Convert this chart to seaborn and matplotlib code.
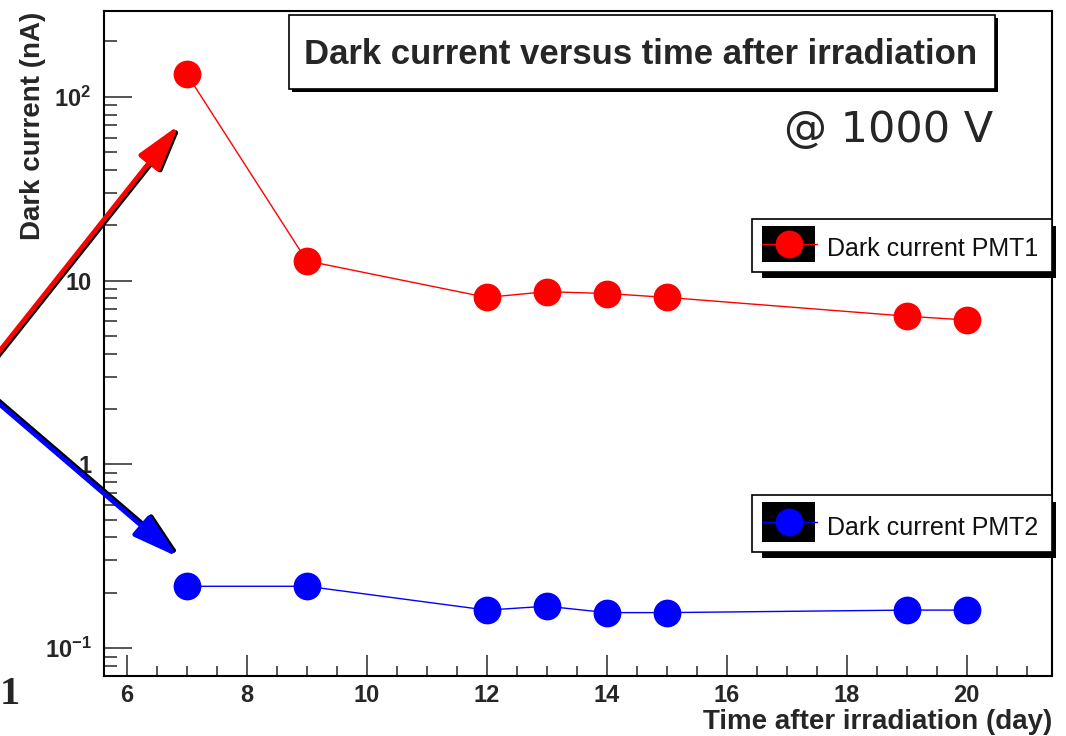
import numpy as np
import pandas as pd
import matplotlib
matplotlib.use('Agg')
import matplotlib.pyplot as plt
import seaborn as sns
from matplotlib.patches import Rectangle, FancyArrowPatch
from matplotlib.lines import Line2D
from matplotlib.ticker import FuncFormatter, MultipleLocator, LogLocator, NullFormatter

# dados
dias = [7, 9, 12, 13, 14, 15, 19, 20]
corrente_pmt1 = [133, 12.8, 8.1, 8.7, 8.5, 8.1, 6.4, 6.1]
corrente_pmt2 = [0.217, 0.217, 0.161, 0.169, 0.156, 0.156, 0.161, 0.161]
rotulos = ['Dark current PMT1', 'Dark current PMT2']
cores = ['#ff0000', '#0000ff']

sns.set_style('ticks')
plt.rcParams['font.family'] = ['Liberation Sans', 'DejaVu Sans']
plt.rcParams['mathtext.fontset'] = 'custom'
plt.rcParams['mathtext.rm'] = 'Liberation Sans:bold'
plt.rcParams['mathtext.it'] = 'Liberation Sans:bold'
plt.rcParams['mathtext.bf'] = 'Liberation Sans:bold'
plt.rcParams['mathtext.default'] = 'rm'

W, H = 1066, 736
fig = plt.figure(figsize=(W / 100, H / 100), dpi=100)
fig.patch.set_facecolor('white')
ax = fig.add_axes([104 / W, 1 - 676 / H, (1052 - 104) / W, (676 - 11) / H])

def P(x, y):
    # pixel da imagem -> fração da figura
    return (x / W, 1 - y / H)

def caixa(x0, y0, x1, y1, **kw):
    r = Rectangle(P(x0, y1), (x1 - x0) / W, (y1 - y0) / H, transform=fig.transFigure, **kw)
    fig.add_artist(r)
    return r

for y, c in zip([corrente_pmt1, corrente_pmt2], cores):
    sns.lineplot(x=dias, y=y, ax=ax, color=c, marker='o', markersize=20,
                 markeredgewidth=0, linewidth=1.0, legend=False)

ax.set_yscale('log')
ax.set_xlim(5.62, 21.42)
ax.set_ylim(0.0705, 293)

def rotulo_log(v, pos):
    if np.isclose(v, 1):
        return '1'
    if np.isclose(v, 10):
        return '10'
    return r'$10^{%d}$' % int(round(np.log10(v)))

ax.xaxis.set_major_locator(MultipleLocator(2))
ax.xaxis.set_minor_locator(MultipleLocator(0.5))
ax.yaxis.set_major_locator(LogLocator(base=10, numticks=10))
ax.yaxis.set_minor_locator(LogLocator(base=10, subs=np.arange(2, 10), numticks=20))
ax.yaxis.set_major_formatter(FuncFormatter(rotulo_log))
ax.yaxis.set_minor_formatter(NullFormatter())

ax.tick_params(axis='x', which='major', direction='in', length=15, width=1.1, pad=6, labelsize=17)
ax.tick_params(axis='x', which='minor', direction='in', length=7, width=1.1)
ax.tick_params(axis='y', which='major', direction='in', length=20, width=1.1, pad=9, labelsize=17)
ax.tick_params(axis='y', which='minor', direction='in', length=9.5, width=1.1)
ax.tick_params(top=False, right=False, which='both')
for lab in ax.get_xticklabels() + ax.get_yticklabels():
    lab.set_fontweight('bold')
for s in ax.spines.values():
    s.set_visible(True)
    s.set_color('black')
    s.set_linewidth(1.5)
ax.grid(False)

ax.set_xlabel('Time after irradiation (day)', fontsize=20, fontweight='bold', ha='right', va='top')
ax.xaxis.set_label_coords(1.0, -(709 - 676) / 665)
ax.set_ylabel('Dark current (nA)', fontsize=20, fontweight='bold', ha='right', va='center')
ax.yaxis.set_label_coords((33 - 104) / 948, 1 - (12 - 11) / 665)

# caixa do título
caixa(292, 18, 998, 92, facecolor='black', edgecolor='black', lw=0)
caixa(289, 15, 995, 89, facecolor='white', edgecolor='black', lw=1.2)
fig.text(*P(641, 64), 'Dark current versus time after irradiation', ha='center', va='baseline',
         fontsize=25, fontweight='bold')
fig.text(*P(993, 142), '@ 1000 V', ha='right', va='baseline', fontsize=31, family='DejaVu Sans')

# legendas (estilo ROOT)
def legenda(y0, y1, cor, texto, base):
    caixa(762, y0 + 7, 1056, y1 + 6, facecolor='black', edgecolor='black', lw=0)
    caixa(752, y0, 1052, y1, facecolor='white', edgecolor='black', lw=1.2)
    caixa(762, y0 + 7, 815, y1 - 10, facecolor='black', edgecolor='black', lw=0)
    ym = (y0 + 7 + y1 - 10) / 2
    fig.add_artist(Line2D([762 / W, 817 / W], [P(0, ym)[1]] * 2, transform=fig.transFigure,
                          color=cor, lw=1.0))
    fig.add_artist(Line2D([789 / W], [P(0, ym)[1]], transform=fig.transFigure, color=cor,
                          marker='o', markersize=20, markeredgewidth=0, lw=0))
    fig.text(*P(827, base), texto, ha='left', va='baseline', fontsize=18, color='#111111')

legenda(219, 272, cores[0], rotulos[0], 256)
legenda(495, 552, cores[1], rotulos[1], 535)

# setas da apresentação
def seta(p0, p1, cor, desloc):
    sombra = FancyArrowPatch(P(p0[0] + desloc[0], p0[1] + desloc[1]), P(p1[0] + desloc[0], p1[1] + desloc[1]),
                             transform=fig.transFigure, arrowstyle='-|>,head_length=2.8,head_width=0.8',
                             mutation_scale=10, lw=3.4, color='black', shrinkA=0, shrinkB=0)
    fig.add_artist(sombra)
    f = FancyArrowPatch(P(*p0), P(*p1), transform=fig.transFigure,
                        arrowstyle='-|>,head_length=2.8,head_width=0.8',
                        mutation_scale=10, lw=3.4, color=cor, shrinkA=0, shrinkB=0)
    fig.add_artist(f)

seta((-10, 363), (179, 125), cores[0], (2, 1))
seta((-10, 396), (178, 557), cores[1], (2, -1))

fig.text(*P(0, 704), '1', ha='left', va='baseline', fontsize=29, fontweight='bold',
         family='Liberation Serif')

fig.savefig('out.png', dpi=100, facecolor='white')
